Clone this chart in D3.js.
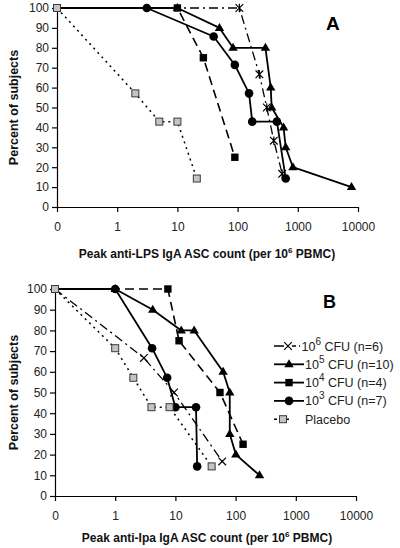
<!DOCTYPE html>
<html><head><meta charset="utf-8">
<script src="https://cdn.jsdelivr.net/npm/d3@7"></script>
<style>
html,body{margin:0;padding:0;background:#fff;}
svg{display:block;}
text{font-family:"Liberation Sans",Arial,sans-serif;}
</style></head>
<body>
<svg id="chart" width="400" height="548"></svg>
<script>
// ---------- DATA ----------
const xTicks = [0, 1, 10, 100, 1000, 10000];
const xTickLabels = ["0", "1", "10", "100", "1000", "10000"];
const yTicks = [0, 10, 20, 30, 40, 50, 60, 70, 80, 90, 100];

const seriesKeys = ["cfu6", "cfu5", "cfu4", "cfu3", "placebo"];
const legendBase = ["10", "10", "10", "10", "Placebo"];
const legendExp = ["6", "5", "4", "3", ""];
const legendRest = [" CFU (n=6)", " CFU (n=10)", " CFU (n=4)", " CFU (n=7)", ""];

// Panel A: anti-LPS
const aCfu6X = [0, 107, 230, 305, 400, 550];
const aCfu6Y = [100, 100, 66.7, 50, 33.3, 16.7];
const aCfu5X = [0, 10, 50, 84, 290, 355, 368, 580, 630, 830, 7800];
const aCfu5Y = [100, 100, 90, 80, 80, 60, 50, 40, 30, 20, 10];
const aCfu4X = [0, 10, 27, 90];
const aCfu4Y = [100, 100, 75, 25];
const aCfu3X = [0, 3.1, 40, 90, 155, 175, 450, 630];
const aCfu3Y = [100, 100, 85.7, 71.4, 57.1, 42.9, 42.9, 14.3];
const aPlaceboX = [0, 2, 5, 10, 21];
const aPlaceboY = [100, 57.1, 42.9, 42.9, 14.3];

// Panel B: anti-Ipa
const bCfu6X = [0, 3, 9.5, 60];
const bCfu6Y = [100, 66.7, 50, 16.7];
const bCfu5X = [0, 1, 4.2, 12.5, 20.5, 62, 80, 80, 101, 250];
const bCfu5Y = [100, 100, 90, 80, 80, 60, 50, 30, 20, 10];
const bCfu4X = [0, 7.5, 11.5, 55, 133];
const bCfu4Y = [100, 100, 75, 50, 25];
const bCfu3X = [0, 1, 4.1, 7.3, 10, 22, 23];
const bCfu3Y = [100, 100, 71.4, 57.1, 42.9, 42.9, 14.3];
const bPlaceboX = [0, 1, 2, 4, 8, 40];
const bPlaceboY = [100, 71.4, 57.1, 42.9, 42.9, 14.3];

const panelLetters = ["A", "B"];
const xTitleStart = ["Peak anti-LPS IgA ASC count (per 10", "Peak anti-Ipa IgA ASC count (per 10"];
const xTitleExp = ["6", "6"];
const xTitleEnd = [" PBMC)", " PBMC)"];
const yTitle = "Percent of subjects";

// ---------- STYLES / LAYOUT ----------
const styles = {
  cfu6:   {dash: "9,4,2,4", width: 1.3, marker: "x"},
  cfu5:   {dash: null, width: 1.8, marker: "tri"},
  cfu4:   {dash: "9,5", width: 1.6, marker: "sq"},
  cfu3:   {dash: null, width: 1.8, marker: "circ"},
  placebo:{dash: "2,4", width: 1.5, marker: "gsq"}
};
const lineOrder = ["cfu6", "cfu4", "placebo", "cfu5", "cfu3"];
const markerOrder = ["cfu6", "cfu4", "cfu5", "cfu3", "placebo"];

const panels = [
  {x0: 57, x1: 358, y0: 207, y1: 8, asterisk: true,
   letter: {x: 326, y: 29.5, size: 19}, xTitleY: 258,
   data: {cfu6: [aCfu6X, aCfu6Y], cfu5: [aCfu5X, aCfu5Y], cfu4: [aCfu4X, aCfu4Y], cfu3: [aCfu3X, aCfu3Y], placebo: [aPlaceboX, aPlaceboY]}},
  {x0: 55, x1: 356, y0: 496, y1: 289, asterisk: false,
   letter: {x: 323, y: 308, size: 18}, xTitleY: 542,
   data: {cfu6: [bCfu6X, bCfu6Y], cfu5: [bCfu5X, bCfu5Y], cfu4: [bCfu4X, bCfu4Y], cfu3: [bCfu3X, bCfu3Y], placebo: [bPlaceboX, bPlaceboY]}}
];

const svg = d3.select("#chart");
const xv = v => v === 0 ? 0.1 : v;

function drawMarker(g, type, cx, cy, asterisk) {
  if (type === "circ") {
    g.append("circle").attr("cx", cx).attr("cy", cy).attr("r", 4.3).attr("fill", "#000");
  } else if (type === "sq") {
    g.append("rect").attr("x", cx - 3.7).attr("y", cy - 3.7).attr("width", 7.4).attr("height", 7.4).attr("fill", "#000");
  } else if (type === "gsq") {
    g.append("rect").attr("x", cx - 3.5).attr("y", cy - 3.5).attr("width", 7).attr("height", 7)
      .attr("fill", "#c4c4c4").attr("stroke", "#3a3a3a").attr("stroke-width", 1);
  } else if (type === "tri") {
    g.append("path").attr("d", `M${cx},${cy - 5}L${cx + 4.7},${cy + 3}L${cx - 4.7},${cy + 3}Z`).attr("fill", "#000");
  } else if (type === "x") {
    const s = 3.8;
    g.append("path").attr("d", `M${cx - s},${cy - s}L${cx + s},${cy + s}M${cx - s},${cy + s}L${cx + s},${cy - s}` + (asterisk ? `M${cx},${cy - s - 0.5}L${cx},${cy + s + 0.5}` : ""))
      .attr("stroke", "#000").attr("stroke-width", 1.2).attr("fill", "none");
  }
}

panels.forEach((p, pi) => {
  const x = d3.scaleLog().domain([0.1, 10000]).range([p.x0, p.x1]);
  const y = d3.scaleLinear().domain([0, 100]).range([p.y0, p.y1]);
  const g = svg.append("g");

  // axes
  const xAxis = d3.axisBottom(x).tickValues(xTicks.map(xv))
    .tickFormat((d, i) => xTickLabels[i]).tickSize(5).tickSizeOuter(0).tickPadding(10.5);
  const yAxis = d3.axisLeft(y).tickValues(yTicks).tickSize(5).tickSizeOuter(0).tickPadding(3);
  const gx = g.append("g").attr("transform", `translate(0,${p.y0})`).call(xAxis);
  const gy = g.append("g").attr("transform", `translate(${p.x0},0)`).call(yAxis);
  [gx, gy].forEach(a => {
    a.selectAll("path,line").attr("stroke", "#000").attr("stroke-width", 1.2);
    a.selectAll("text").attr("font-size", 12).attr("fill", "#222")
      .attr("font-family", '"Liberation Sans",Arial,sans-serif');
  });

  // lines
  const line = d3.line().x(d => x(xv(d[0]))).y(d => y(d[1]));
  lineOrder.forEach(k => {
    const [xs, ys] = p.data[k];
    const pts = xs.map((v, i) => [v, ys[i]]);
    const st = styles[k];
    g.append("path").datum(pts).attr("d", line).attr("fill", "none")
      .attr("stroke", "#000").attr("stroke-width", st.width)
      .attr("stroke-dasharray", st.dash).attr("stroke-linejoin", "round");
  });
  // markers
  markerOrder.forEach(k => {
    const [xs, ys] = p.data[k];
    const mg = g.append("g");
    xs.forEach((v, i) => {
      if (v === 0 && k !== "placebo") return;
      drawMarker(mg, styles[k].marker, x(xv(v)), y(ys[i]), p.asterisk);
    });
  });

  // panel letter
  g.append("text").attr("x", p.letter.x).attr("y", p.letter.y).attr("font-size", p.letter.size)
    .attr("font-weight", "bold").attr("fill", "#000").text(panelLetters[pi]);

  // x title
  const xt = g.append("text").attr("x", 207).attr("y", p.xTitleY).attr("text-anchor", "middle")
    .attr("font-size", 12).attr("font-weight", "bold").attr("fill", "#111");
  xt.append("tspan").text(xTitleStart[pi]);
  xt.append("tspan").attr("dy", -5).attr("font-size", 8).text(xTitleExp[pi]);
  xt.append("tspan").attr("dy", 5).text(xTitleEnd[pi]);

  // y title
  g.append("text").attr("transform", `translate(18,${(p.y0 + p.y1) / 2}) rotate(-90)`)
    .attr("text-anchor", "middle").attr("font-size", 12.5).attr("font-weight", "bold")
    .attr("fill", "#111").text(yTitle);
});

// legend (panel B)
const lg = svg.append("g");
seriesKeys.forEach((k, i) => {
  const by = 350.5 + i * 18.3;
  const ly = by - 4.5;
  const st = styles[k];
  if (k === "cfu6") {
    lg.append("line").attr("x1", 274).attr("x2", 300).attr("y1", ly).attr("y2", ly)
      .attr("stroke", "#000").attr("stroke-width", 1.3).attr("stroke-dasharray", "10,8,4,3,1.5,10");
    drawMarker(lg, "x", 288, ly, false);
  } else if (k === "placebo") {
    lg.append("line").attr("x1", 274).attr("x2", 292).attr("y1", ly).attr("y2", ly)
      .attr("stroke", "#000").attr("stroke-width", 1.5).attr("stroke-dasharray", "3,3");
    drawMarker(lg, "gsq", 283, ly, false);
  } else {
    lg.append("line").attr("x1", 274).attr("x2", 304).attr("y1", ly).attr("y2", ly)
      .attr("stroke", "#000").attr("stroke-width", 1.8);
    drawMarker(lg, st.marker, 289, ly, false);
  }
  const tx = k === "cfu6" ? 301.5 : 305;
  const t = lg.append("text").attr("x", tx).attr("y", by).attr("font-size", 12.5).attr("fill", "#222");
  t.append("tspan").text(legendBase[i]);
  if (legendExp[i]) {
    t.append("tspan").attr("dy", -6).attr("font-size", 10).text(legendExp[i]);
    t.append("tspan").attr("dy", 6).text(legendRest[i]);
  }
});
</script>
</body></html>
